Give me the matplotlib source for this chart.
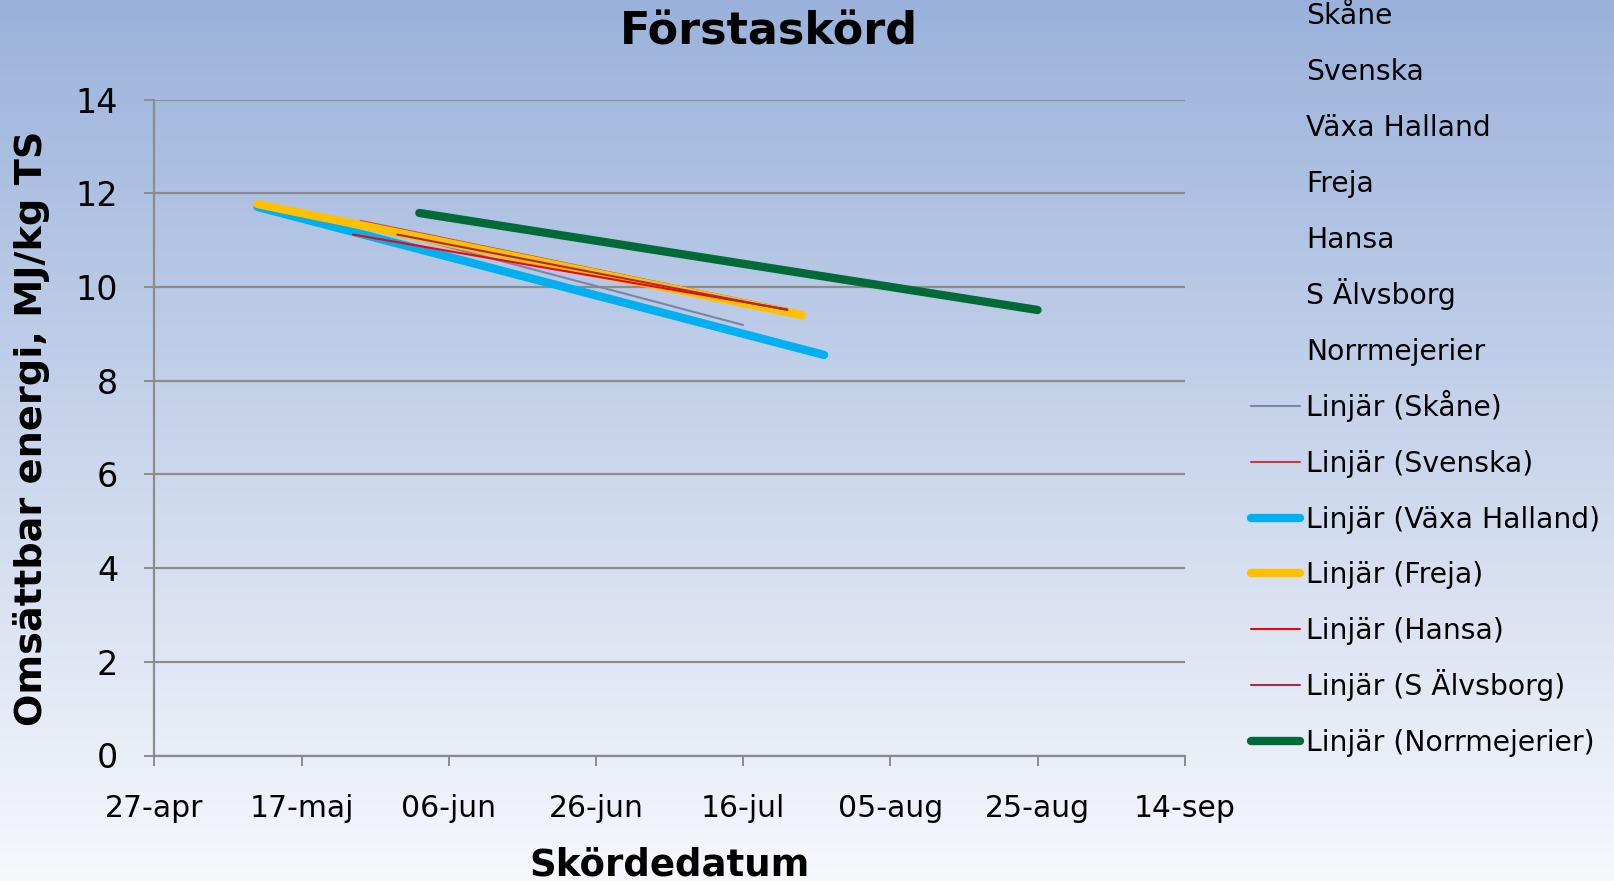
import numpy as np
import matplotlib
matplotlib.use("Agg")
import matplotlib.pyplot as plt
import matplotlib.dates as mdates
from matplotlib.lines import Line2D
import datetime as dt

plt.rcParams['font.family'] = ['DejaVu Sans']

YEAR = 2011
title = "Förstaskörd"
xlabel = "Skördedatum"
ylabel = "Omsättbar energi, MJ/kg TS"

tick_dates = ["04-27", "05-17", "06-06", "06-26", "07-16", "08-05", "08-25", "09-14"]
tick_labels = ["27-apr", "17-maj", "06-jun", "26-jun", "16-jul", "05-aug", "25-aug", "14-sep"]
yticks = [0, 2, 4, 6, 8, 10, 12, 14]

series_names = ["Skåne", "Svenska", "Växa Halland", "Freja", "Hansa", "S Älvsborg", "Norrmejerier"]
series_colors = ["#7A86A8", "#C8383C", "#00B0F0", "#FFC000", "#FF0000", "#A52A50", "#006B38"]
series_widths = [1.5, 1.5, 6.0, 6.0, 1.5, 1.5, 6.0]

# Linear trend lines (start, end)
skane_dates = ["05-25", "07-16"];        skane_vals = [11.35, 9.19]
svenska_dates = ["05-25", "07-22"];      svenska_vals = [11.41, 9.53]
vaxa_dates = ["05-11", "07-27"];         vaxa_vals = [11.71, 8.55]
freja_dates = ["05-11", "07-24"];        freja_vals = [11.77, 9.40]
hansa_dates = ["05-24", "07-22"];        hansa_vals = [11.12, 9.52]
alvsborg_dates = ["05-30", "07-22"];     alvsborg_vals = [11.12, 9.51]
norr_dates = ["06-02", "08-25"];         norr_vals = [11.58, 9.51]

all_dates = [skane_dates, svenska_dates, vaxa_dates, freja_dates, hansa_dates, alvsborg_dates, norr_dates]
all_vals = [skane_vals, svenska_vals, vaxa_vals, freja_vals, hansa_vals, alvsborg_vals, norr_vals]


def to_date(s):
    m, d = s.split("-")
    return dt.datetime(YEAR, int(m), int(d))


W, H = 1614, 881
fig = plt.figure(figsize=(W / 100, H / 100), dpi=100)

# gradient background
bg = fig.add_axes([0, 0, 1, 1], zorder=-10)
top = np.array([154, 178, 219]) / 255
bot = np.array([247, 248, 252]) / 255
t = np.linspace(0, 1, 256)[:, None]
grad = top[None, :] * (1 - t) + bot[None, :] * t
bg.imshow(grad[:, None, :], aspect="auto", extent=[0, 1, 0, 1])
bg.set_axis_off()

ax = fig.add_axes([154.4 / W, 1 - 755.5 / H, (1184.7 - 154.4) / W, (755.5 - 99.6) / H])
ax.set_facecolor("none")

for dates, vals, c, lw in zip(all_dates, all_vals, series_colors, series_widths):
    ax.plot([to_date(d) for d in dates], vals, color=c, lw=lw,
            solid_capstyle="round", zorder=3)

ax.set_xlim(to_date(tick_dates[0]), to_date(tick_dates[-1]))
ax.set_ylim(0, 14)
ax.set_xticks([to_date(d) for d in tick_dates])
ax.set_xticklabels(tick_labels)
ax.set_yticks(yticks)
ax.yaxis.grid(True, color="#8C8C8C", lw=1.6)
ax.set_axisbelow(True)
for s in ["top", "right"]:
    ax.spines[s].set_visible(False)
for s in ["left", "bottom"]:
    ax.spines[s].set_color("#8C8C8C")
    ax.spines[s].set_linewidth(1.6)
ax.tick_params(axis="both", colors="#8C8C8C", labelcolor="black",
               length=7, width=1.4, direction="out")
ax.tick_params(axis="x", pad=21, labelsize=21.5)
ax.tick_params(axis="y", pad=19, labelsize=24)

fig.text(769 / W, 1 - 32 / H, title, ha="center", va="center", fontsize=32, fontweight="bold")
fig.text(32 / W, 1 - 428 / H, ylabel, ha="center", va="center", rotation=90,
         fontsize=27.5, fontweight="bold")
fig.text(670 / W, 1 - 876 / H, xlabel, ha="center", va="baseline", fontsize=26.7, fontweight="bold")

# legend
step = 55.9
base0 = 24.4
labels = series_names + ["Linjär (" + n + ")" for n in series_names]
for i, lab in enumerate(labels):
    yb = base0 + i * step
    fig.text(1306 / W, 1 - yb / H, lab, ha="left", va="baseline", fontsize=20.3)
    if i >= len(series_names):
        k = i - len(series_names)
        yc = 1 - (yb - 10) / H
        fig.add_artist(Line2D([1251 / W, 1300 / W], [yc, yc], color=series_colors[k],
                              lw=series_widths[k], solid_capstyle="round",
                              transform=fig.transFigure))

fig.savefig("out.png", dpi=100)
